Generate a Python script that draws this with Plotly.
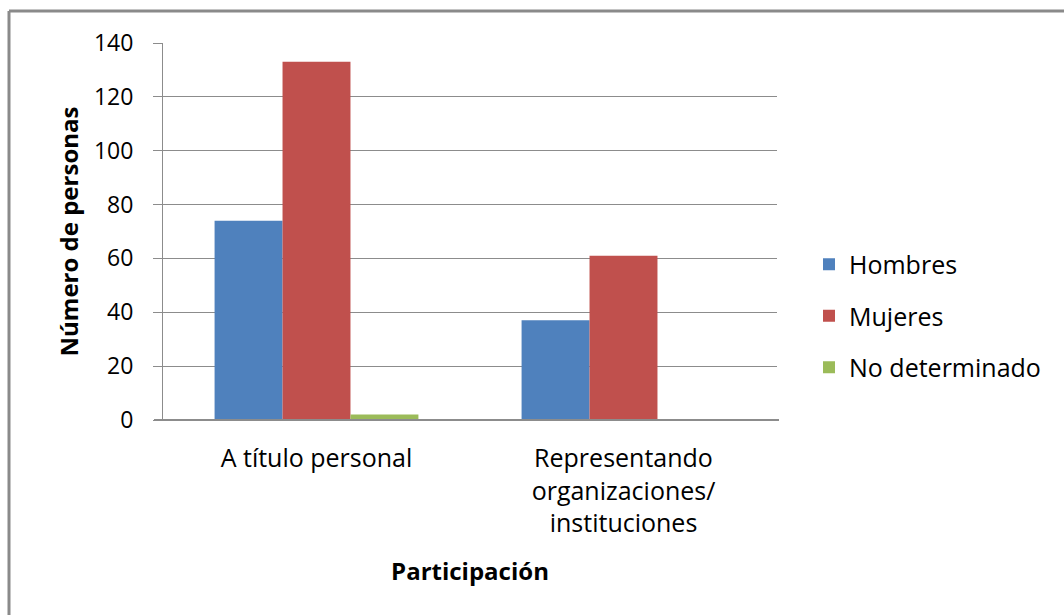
import plotly.graph_objects as go

categories = ["A título personal", "Representando<br>organizaciones/<br>instituciones"]
hombres = [74, 37]
mujeres = [133, 61]
no_determinado = [2, 0]
series_names = ["Hombres", "Mujeres", "No determinado"]
colors = ["#4F81BD", "#C0504D", "#9BBB59"]
y_ticks = [0, 20, 40, 60, 80, 100, 120, 140]

FONT = "'Open Sans', Lato, sans-serif"

fig = go.Figure()
for name, vals, col in zip(series_names, [hombres, mujeres, no_determinado], colors):
    fig.add_trace(go.Bar(
        x=categories, y=vals, name=name, legendgroup=name,
        marker=dict(color=col, line=dict(width=0)),
    ))

L, R, T, B = 163, 287, 43, 195
W, H = 1064, 615
pw = W - L - R
ph = H - T - B

fig.update_layout(
    width=W, height=H,
    margin=dict(l=L, r=R, t=T, b=B),
    paper_bgcolor="white", plot_bgcolor="white",
    barmode="group", bargap=0.336, bargroupgap=0,
    font=dict(family=FONT, size=24, color="#000000"),
    legend=dict(
        x=1 + (809 - (W - R)) / pw, xanchor="left",
        y=0.5 + (ph / 2 - (316 - T)) / ph, yanchor="middle",
        font=dict(size=25), tracegroupgap=16,
        bgcolor="rgba(0,0,0,0)", itemwidth=30,
    ),
    xaxis=dict(
        showgrid=False, showline=False, ticks="",
        tickfont=dict(size=25), ticklabelstandoff=21,
        title=dict(text="<b>Participación</b>", font=dict(size=24), standoff=25),
    ),
    yaxis=dict(
        range=[0, 140], tickvals=y_ticks,
        showgrid=True, gridcolor="#8c8c8c", gridwidth=1,
        showline=True, linecolor="#8c8c8c", linewidth=1,
        ticks="outside", ticklen=9, tickcolor="#8c8c8c",
        tickfont=dict(size=23), ticklabelstandoff=15,
        zeroline=True, zerolinecolor="#8c8c8c", zerolinewidth=2,
        title=dict(text="<b>Número de personas</b>", font=dict(size=24), standoff=8),
    ),
    shapes=[
        dict(type="line", xref="paper", yref="paper",
             x0=(9 - L) / pw, x1=(W - L) / pw + 0.01,
             y0=1 + (T - 11) / ph, y1=1 + (T - 11) / ph,
             line=dict(color="#8a8a8a", width=3)),
        dict(type="line", xref="paper", yref="paper",
             x0=(9 - L) / pw, x1=(9 - L) / pw,
             y0=1 + (T - 11) / ph, y1=-(B + 5) / ph,
             line=dict(color="#8a8a8a", width=3)),
        dict(type="line", xref="paper", yref="paper",
             x0=-9 / pw, x1=1 + 2 / pw, y0=0, y1=0,
             line=dict(color="#8c8c8c", width=2)),
    ],
)

fig.write_html("out.html", config={"displayModeBar": False},
               post_script="document.body.style.margin='0';document.body.style.overflow='hidden';")
